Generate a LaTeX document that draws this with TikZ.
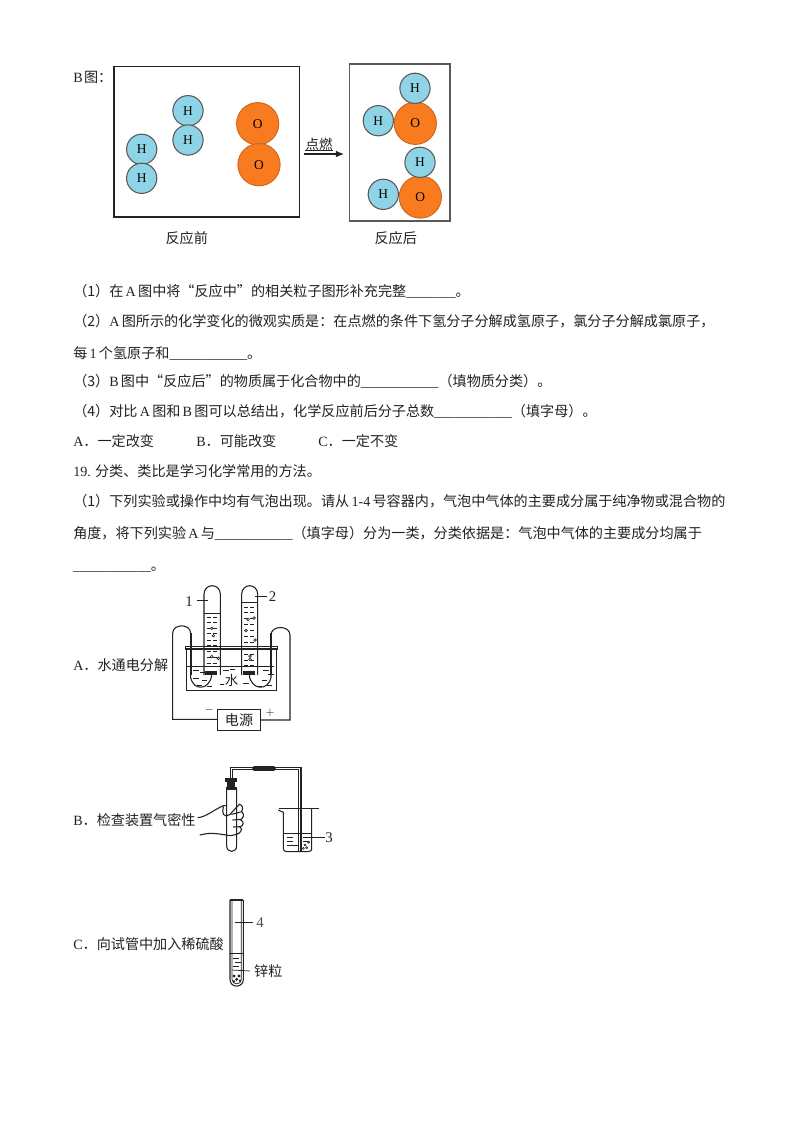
\documentclass[tikz,border=0pt]{standalone}
\usepackage{fontspec}
\usetikzlibrary{arrows.meta}
\setmainfont{Noto Sans CJK SC}
\newfontfamily\latinf{Liberation Serif}
\newcommand{\zl}[1]{{\latinf #1}}
\newcommand{\zs}[1]{\hspace{0.16em}{\latinf #1}\hspace{0.16em}}
\newcommand{\blank}[1]{{\latinf\foreach \i in {1,...,#1}{\_}}}
\definecolor{hblue}{HTML}{8FD4E6}
\definecolor{oorange}{HTML}{F97B1F}
\definecolor{ink}{HTML}{222222}
\tikzset{
  txt/.style={anchor=base west,inner sep=0pt,font=\fontsize{10.5}{12}\selectfont,text=ink},
  lab/.style={anchor=center,inner sep=0pt,font=\fontsize{10.5}{12}\selectfont,text=ink},
  hatom/.style={circle,draw=ink!75,line width=0.8pt,fill=hblue,minimum size=22.5pt,inner sep=0pt,font=\latinf\fontsize{10}{10}\selectfont},
  oatom/.style={circle,draw=oorange!80!black,line width=0.6pt,fill=oorange,minimum size=31.5pt,inner sep=0pt,font=\latinf\fontsize{10}{10}\selectfont},
  fig/.style={line width=0.8pt,draw=ink},
  thin fig/.style={line width=0.55pt,draw=ink},
  dash mark/.style={line width=0.65pt,draw=ink},
  bub/.style={line width=0.45pt,draw=ink,fill=white},
  numlab/.style={anchor=center,inner sep=0pt,text=ink,font=\latinf\fontsize{11}{12}\selectfont}
}
\begin{document}
\begin{tikzpicture}[x=0.744pt,y=-0.744pt]
\useasboundingbox (0,0) rectangle (800,1132);
\fill[white] (0,0) rectangle (800,1132);

% B diagram
\node[txt] (bt) at (73,82) {\zl{B}\hspace{0.1em}图：};
\draw[line width=0.9pt,draw=ink] (114,66.7) rectangle (299.3,217);
\draw[line width=0.9pt,draw=ink!75] (349.3,64) rectangle (450,221);
\node[oatom] (o1) at (257.7,123.7) {O};
\node[oatom] (o2) at (259,164.7) {O};
\node[hatom] (h1) at (141.7,149.3) {H};
\node[hatom] (h2) at (141.7,178.3) {H};
\node[hatom] (h3) at (188,110.7) {H};
\node[hatom] (h4) at (188,140) {H};
\node[oatom] (o3) at (415.3,123.3) {O};
\node[oatom] (o4) at (420.3,197) {O};
\node[hatom] (h5) at (415,88.3) {H};
\node[hatom] (h6) at (378.3,120.7) {H};
\node[hatom] (h7) at (420,162.3) {H};
\node[hatom] (h8) at (383.3,194.3) {H};
\coordinate (al) at (304.3,154);
\coordinate (ar) at (344,154);
\draw[line width=0.8pt,draw=ink,-{Latex[length=6pt,width=5pt]}] (al) -- (ar);
\node[lab,font=\fontsize{10}{10}\selectfont] (ig) at (319,144) {点燃};
\draw[line width=0.5pt,draw=ink] (ig.south west) -- (ig.south east);
\node[lab] (b1) at (186.7,237.7) {反应前};
\node[lab] (b2) at (395.7,238.3) {反应后};

% text
\node[txt] (t1) at (73,296) {（1）在\zs{A}图中将“反应中”的相关粒子图形补充完整\blank{7}。};
\node[txt] (t2) at (73,326) {（2）\zl{A}\hspace{0.16em}图所示的化学变化的微观实质是：在点燃的条件下氢分子分解成氢原子，氯分子分解成氯原子，};
\node[txt] (t3) at (73,358) {每\zs{1}个氢原子和\blank{11}。};
\node[txt] (t4) at (73,386) {（3）\zl{B}\hspace{0.16em}图中“反应后”的物质属于化合物中的\blank{11}（填物质分类）。};
\node[txt] (t5) at (73,416) {（4）对比\zs{A}图和\zs{B}图可以总结出，化学反应前后分子总数\blank{11}（填字母）。};
\node[txt] (t6a) at (73,446) {\zl{A}．一定改变};
\node[txt] (t6b) at (196,446) {\zl{B}．可能改变};
\node[txt] (t6c) at (318,446) {\zl{C}．一定不变};
\node[txt] (t7) at (73,476) {\zl{19.} 分类、类比是学习化学常用的方法。};
\node[txt] (t8) at (73,506) {（1）下列实验或操作中均有气泡出现。请从\zs{1-4}号容器内，气泡中气体的主要成分属于纯净物或混合物的};
\node[txt] (t9) at (73,538) {角度，将下列实验\zs{A}与\blank{11}（填字母）分为一类，分类依据是：气泡中气体的主要成分均属于};
\node[txt] (t10) at (73,570) {\blank{11}。};
\node[txt] (ca) at (73,670) {\zl{A}．水通电分解};
\node[txt] (cb) at (73,825) {\zl{B}．检查装置气密性};
\node[txt] (cc) at (73,949) {\zl{C}．向试管中加入稀硫酸};

% Figure A (zoom coordinates)
\begin{scope}[shift={(160,580)},x=0.248pt,y=-0.248pt]
  \draw[fig] (132,285) -- (132,42) arc[start angle=-180,end angle=0,x radius=24.5,y radius=25] -- (181,285);
  \draw[fig] (245,285) -- (245,42) arc[start angle=-180,end angle=0,x radius=24,y radius=25] -- (293,285);
  \draw[thin fig] (132,100) -- (181,100);
  \draw[thin fig] (245,68) -- (293,68);
  % trough
  \draw[fig] (80,207) -- (80,332) -- (350,332) -- (350,207);
  \draw[fig] (76,200) -- (352,200) -- (352,207) -- (76,207) -- cycle;
  \draw[fig] (80,260) -- (342,260);
  % wires
  \draw[fig] (172,418) -- (38,418) -- (38,160) .. controls (38,130) and (92,130) .. (92,160) -- (92,292) .. controls (100,335) and (150,330) .. (155,285);
  \draw[fig] (302,420) -- (390,420) -- (390,165) .. controls (390,135) and (333,135) .. (333,165) -- (333,292) .. controls (325,335) and (272,330) .. (268,285);
  \draw[line width=1.5pt,draw=ink] (93,160) -- (93,285);
  \draw[line width=1.5pt,draw=ink] (333,160) -- (333,285);
  \fill[ink] (136,272) rectangle (172,286);
  \fill[ink] (250,272) rectangle (286,286);
  % water marks
  \foreach \xa/\ya in {100/272,120/278,190/272,210/268,310/272,325/284,100/296,125/300,195/285,305/300,110/315,140/318,250/310,290/318,320/315,180/312}
    \draw[dash mark] (\xa,\ya) -- ++(16,0);
  \foreach \ya in {112,128,145,160,180,196,215,232,250}{
    \draw[dash mark] (140,\ya) -- ++(12,0);
    \draw[dash mark] (158,\ya) -- ++(12,0);
  }
  \foreach \ya in {82,98,115,132,150,168,186,205,222,240,255}{
    \draw[dash mark] (252,\ya) -- ++(12,0);
    \draw[dash mark] (270,\ya) -- ++(12,0);
  }
  \foreach \xa/\ya in {155/145,160/167,155/230,175/235,264/118,282/114,258/152,285/180,270/228,270/238}
    \draw[bub] (\xa,\ya) circle[radius=4];
  % labels
  \coordinate (l1a) at (110,60); \coordinate (l1b) at (145,60);
  \coordinate (l2a) at (285,50); \coordinate (l2b) at (322,50);
  \draw[thin fig] (l1a) -- (l1b);
  \draw[line width=0.7pt,draw=ink] (l2a) -- (l2b);
  \node[numlab] (n1) at (87,65) {1};
  \node[numlab] (n2) at (338,50) {2};
  \node[lab,fill=white,inner sep=1pt,font=\fontsize{10}{12}\selectfont] (w) at (215,300) {水};
  \node[draw=ink,line width=0.8pt,minimum width=32pt,minimum height=15pt,inner sep=0pt,font=\fontsize{10.5}{12}\selectfont,text=ink] (ps) at (237,420) {电源};
  \node[lab,font=\latinf\fontsize{8}{10}\selectfont] (mi) at (148,390) {$-$};
  \node[lab,font=\latinf\fontsize{8}{10}\selectfont] (pl) at (330,397) {$+$};
\end{scope}

% Figure B
\begin{scope}[shift={(190,755)},x=0.248pt,y=-0.248pt]
  \draw[fig] (110,100) -- (110,272) .. controls (110,295) and (140,295) .. (140,272) -- (140,100);
  \fill[ink] (105,70) rectangle (140,80);
  \fill[ink] (112,80) rectangle (136,95);
  \fill[ink] (107,95) rectangle (140,106);
  \draw[fig] (122,70) -- (122,38) -- (333,38) -- (333,292);
  \draw[fig] (128,70) -- (128,44) -- (326,44) -- (326,292);
  \draw[line width=3.6pt,draw=ink,line cap=round] (194,41) -- (250,41);
  % beaker
  \draw[fig] (265,165) -- (280,172) -- (280,278) .. controls (280,288) and (285,290) .. (292,290) -- (353,290) .. controls (362,290) and (365,288) .. (365,278) -- (365,160);
  \draw[thin fig] (268,160) -- (388,160);
  \draw[thin fig] (280,236) -- (365,236);
  \foreach \xa/\ya in {292/248,292/258,292/270,340/246,340/258,305/270}
    \draw[dash mark] (\xa,\ya) -- ++(18,0);
  \foreach \xa/\ya in {345/270,350/278,340/280,356/262}
    \draw[bub] (\xa,\ya) circle[radius=3];
  % hand
  \draw[fig,line cap=round] (24,188) .. controls (50,185) and (70,165) .. (100,152) -- (110,152);
  \draw[fig,line cap=round] (100,155) .. controls (95,175) and (100,190) .. (120,178) -- (148,148) .. controls (158,150) and (160,160) .. (155,170);
  \draw[fig,line cap=round] (125,178) -- (155,170) .. controls (165,178) and (160,190) .. (150,195);
  \draw[fig,line cap=round] (128,195) -- (150,193) .. controls (165,200) and (160,212) .. (150,216);
  \draw[fig,line cap=round] (130,216) -- (150,215) .. controls (160,225) and (150,235) .. (140,238);
  \draw[fig,line cap=round] (30,240) .. controls (65,230) and (90,238) .. (122,242) -- (140,238);
  \node[numlab] (n3) at (417,248) {3};
  \coordinate (l3a) at (345,248); \coordinate (l3b) at (405,248);
  \draw[line width=0.7pt,draw=ink] (l3a) -- (l3b);
\end{scope}

% Figure C
\begin{scope}[shift={(210,890)},x=0.248pt,y=-0.248pt]
  \draw[fig] (60,30) -- (100,30);
  \draw[fig] (60,30) -- (60,268) .. controls (60,295) and (100,295) .. (100,268) -- (100,30);
  \draw[thin fig] (66,30) -- (66,268) .. controls (66,286) and (94,286) .. (94,268) -- (94,30);
  \draw[thin fig] (60,190) -- (100,190);
  \foreach \xa/\ya in {70/205,74/218,70/230}
    \draw[dash mark] (\xa,\ya) -- ++(18,0);
  \fill[ink] (72,258) circle[radius=5];
  \fill[ink] (87,258) circle[radius=5];
  \fill[ink] (80,268) circle[radius=5];
  \fill[ink] (72,274) circle[radius=4];
  \fill[ink] (90,272) circle[radius=4];
  \coordinate (l4a) at (75,97); \coordinate (l4b) at (128,97);
  \draw[thin fig] (l4a) -- (l4b);
  \node[numlab,text=ink!80] (n4) at (150,97) {4};
  \coordinate (lza) at (65,240); \coordinate (lzb) at (120,243);
  \draw[thin fig] (lza) -- (lzb);
  \node[lab] (zn) at (175,243) {锌粒};
\end{scope}
\end{tikzpicture}
\end{document}
